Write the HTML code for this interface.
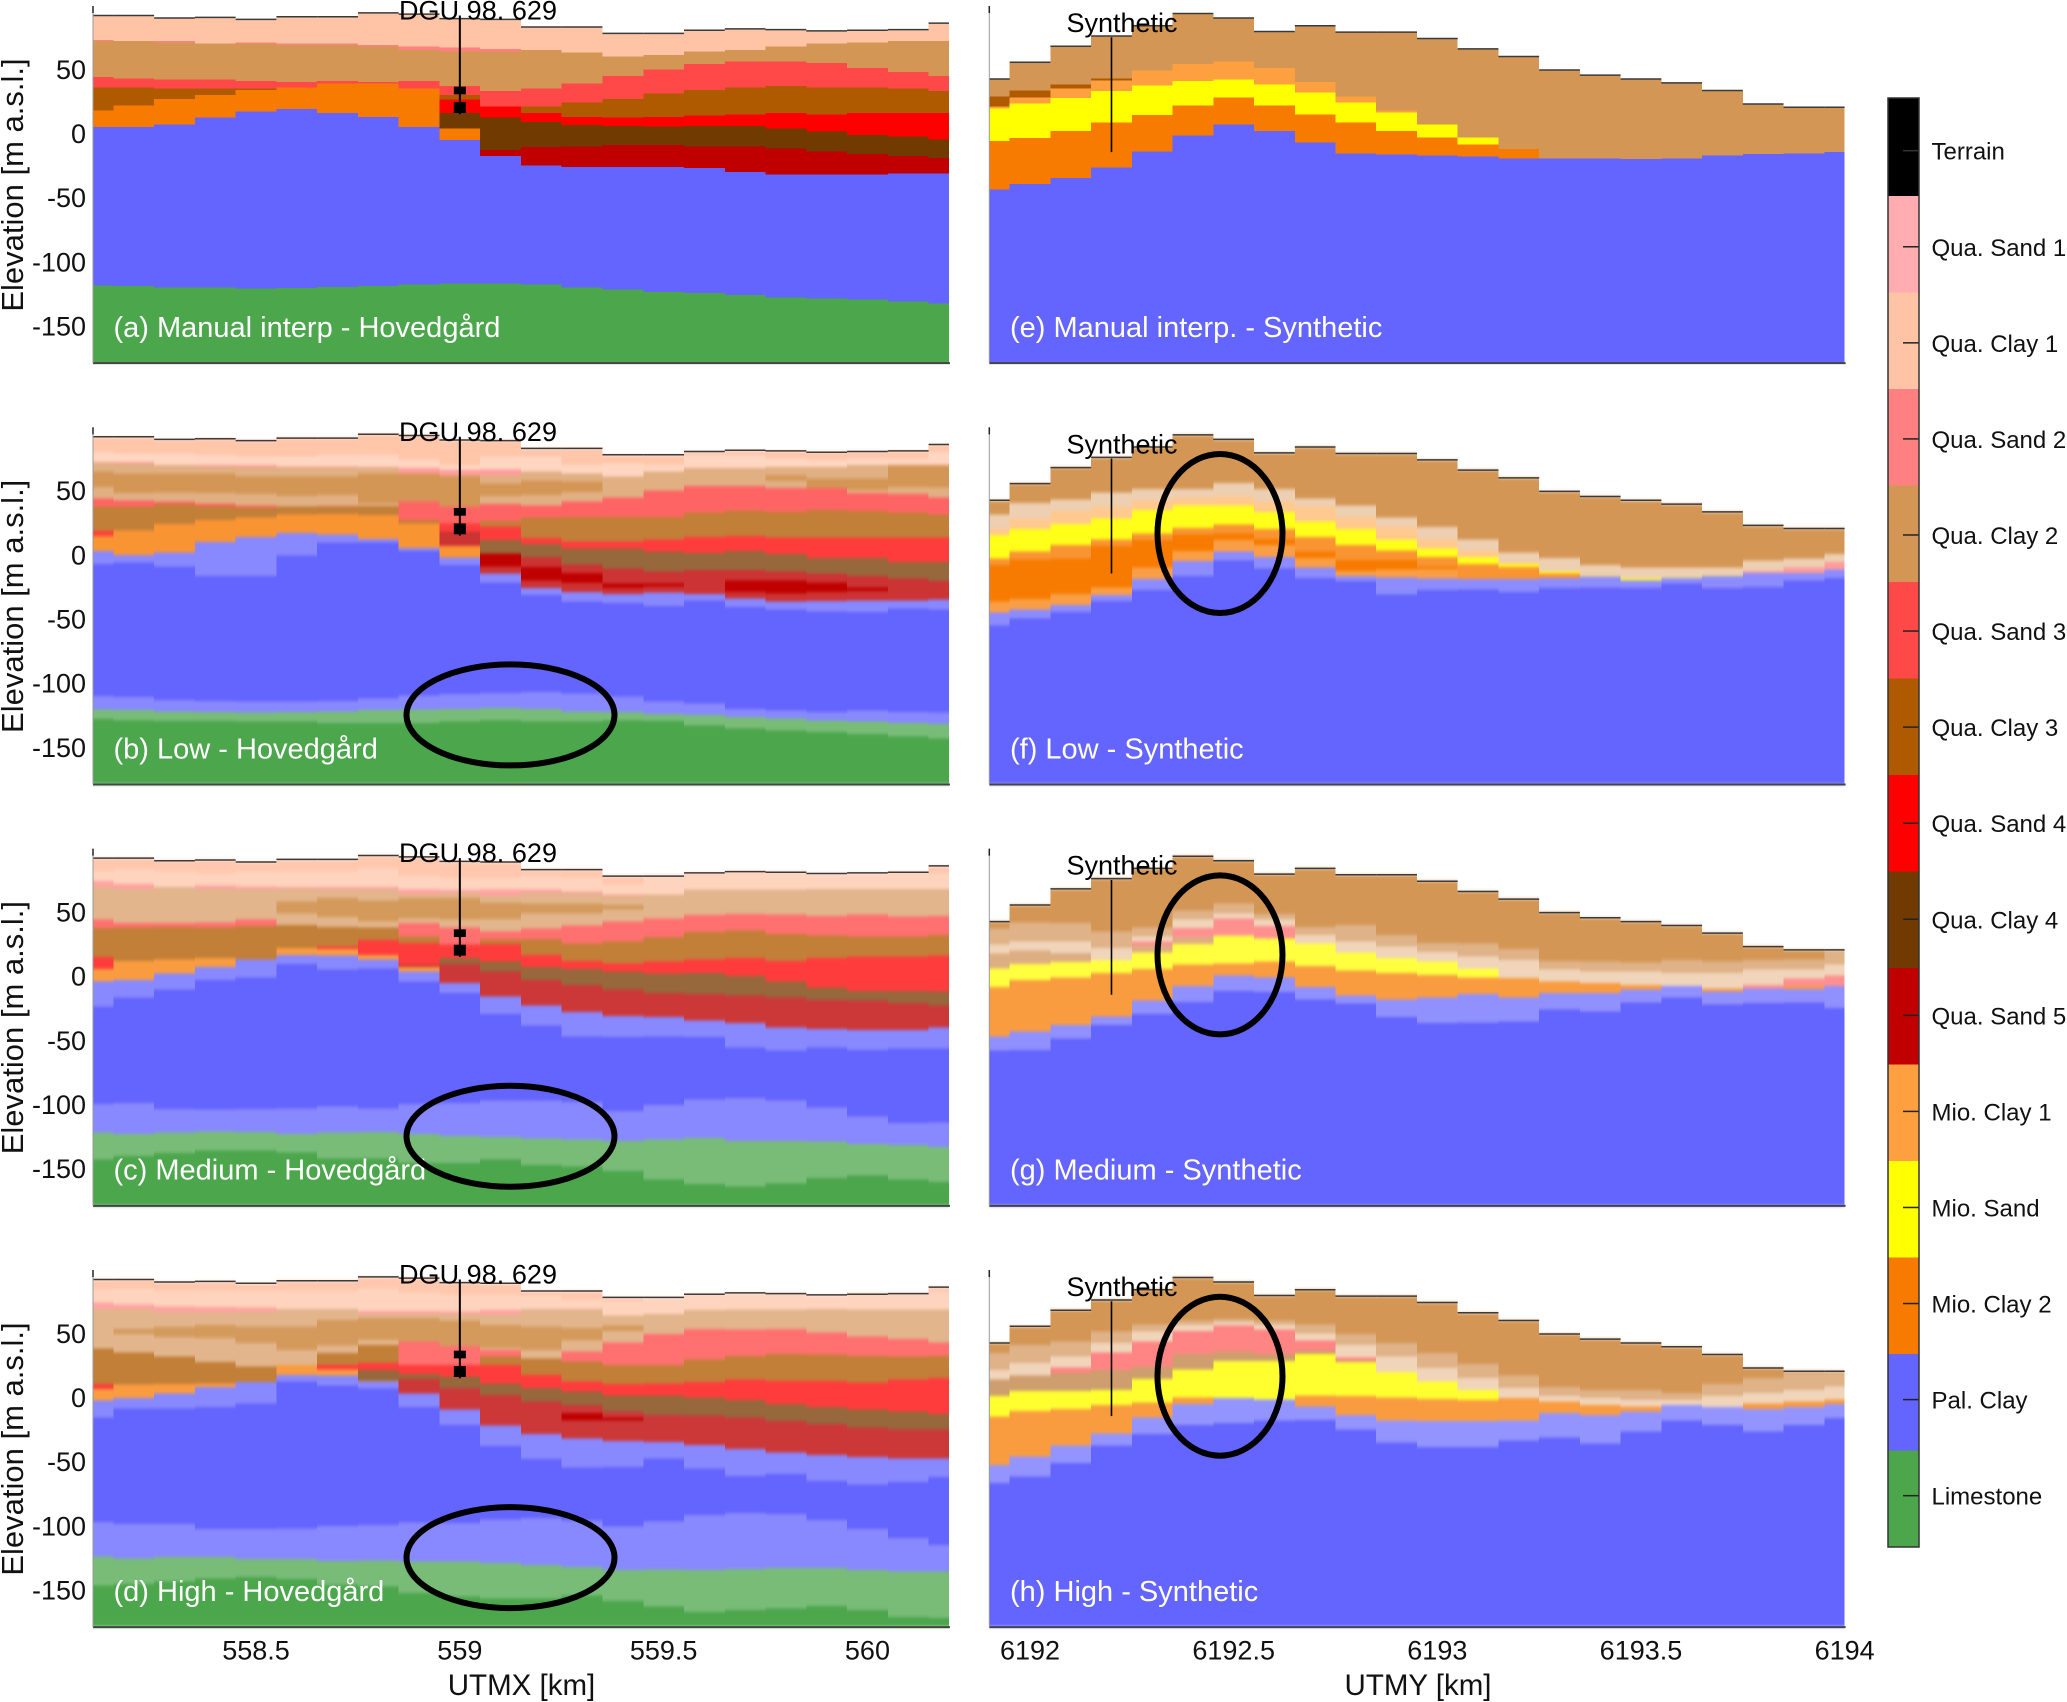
<!DOCTYPE html>
<html lang="en">
<head>
<meta charset="utf-8">
<title>Geological cross sections</title>
<style>
html,body{margin:0;padding:0;background:#fff;}
svg{display:block;font-family:"Liberation Sans",Arial,sans-serif;}
</style>
</head>
<body>
<svg id="chart" xmlns="http://www.w3.org/2000/svg" width="2067" height="1702" viewBox="0 0 2067 1702">
<defs>
<filter id="soften" filterUnits="userSpaceOnUse" x="0" y="0" width="2067" height="1702" color-interpolation-filters="sRGB">
<feGaussianBlur stdDeviation="0 1.5"/>
</filter>
</defs>
</svg>
<script>
/* ---------- shared data ---------- */
const utmxCenters = [558.1,558.2,558.3,558.4,558.5,558.6,558.7,558.8,558.9,559.0,559.1,559.2,559.3,559.4,559.5,559.6,559.7,559.8,559.9,560.0,560.1,560.2];
const utmyCenters = [6191.9,6192.0,6192.1,6192.2,6192.3,6192.4,6192.5,6192.6,6192.7,6192.8,6192.9,6193.0,6193.1,6193.2,6193.3,6193.4,6193.5,6193.6,6193.7,6193.8,6193.9,6194.0];
const utmxTicks = [558.5,559,559.5,560];
const utmyTicks = [6192,6192.5,6193,6193.5,6194];
const elevationTicks = [50,0,-50,-100,-150];
const unitNames = ['Terrain','Qua. Sand 1','Qua. Clay 1','Qua. Sand 2','Qua. Clay 2','Qua. Sand 3','Qua. Clay 3','Qua. Sand 4','Qua. Clay 4','Qua. Sand 5','Mio. Clay 1','Mio. Sand','Mio. Clay 2','Pal. Clay','Limestone'];
const unitColors = ['#000000','#FFADB0','#FFC4A6','#FF8080','#D49655','#FF4848','#B05A00','#FF0000','#703A00','#C00000','#FFA040','#FFFF00','#F77B00','#6464FF','#4CA64C'];
const terrainLeft = [92,92,90,90.5,89,91,91,94,93,89.5,89,83,83,78,78,80.5,81.5,81,80,80.5,81,86];
const terrainRight = [42.5,55.5,68,76,84,93.5,90,79.5,84,79,79,74,66,60,49.5,45.5,42.5,39.5,33.5,23,20.5,20.5];
const wellLeft = [559,92,15];
const wellLeftScreens = [[36.5,30.5],[24.5,16]];
const wellRight = [6192.2,75,-14.5];

/* ---------- panel (a) manual interpretation, Hovedgard ---------- */
const panelAColors = ['#FFC4A6','#FF8080','#D49655','#FF4848','#B05A00','#FF0000','#703A00','#C00000','#F77B00','#6464FF','#4CA64C'];
const panelATops = [
terrainLeft,
[73,72,72,70,71,70,70,69,68,67,66,65,63,60,61,64,65,68,70,71,72,72],
[72,72,71,70,70,69,69,68,65,64,64,65,63,60,61,64,65,68,70,71,72,72],
[44,43,42,42,41,40,41,40,41,37,33,35,39,45,50,54,56,56,55,51,48,45],
[36,36,35,35,35,36,39,39,35,30,21,21,24,27,31,34,36,37,36,36,35,33],
[18,22,27,30,34,36,39,39,35,26.5,21,16,13,12.5,13,14,15,16,15,16,16,16],
[18,22,27,30,34,36,39,39,35,16,12.5,9,6.5,6,5.5,6,6,4,1.5,-1,-2.5,-4.5],
[18,22,27,30,34,36,39,39,35,4,-13,-10.5,-10,-9,-9,-10,-10,-11.5,-14,-16,-17.5,-19],
[18,22,27,30,34,36,39,39,35,4,-17.5,-25,-26,-26,-26,-27,-30,-32,-32,-32,-31,-31],
[5,5,7,12.5,17,19,16,13,5,-5,-17.5,-25,-26,-26,-26,-27,-30,-32,-32,-32,-31,-31],
[-118.5,-119,-120,-120,-121,-120.5,-119.5,-119,-117.5,-117,-117,-117.5,-120,-121.5,-123.5,-124.5,-126,-128,-128.5,-129.5,-131,-132.5]
];

/* ---------- panel (b) low, Hovedgard ---------- */
const panelBColors = ['#FFC6AA','#FFD6C2','#FF9C9C','#E0B083','#D49655','#E0B083','#FF6464','#C27F38','#FF3C3C','#96683C','#CC3333','#C00000','#CC3333','#F99433','#8888FF','#6464FF','#8888FF','#78BC78','#4CA64C'];
const panelBTops = [
terrainLeft,
[80,79,79,78,76.5,76.5,78,78,74,70,76.5,76.5,70,71,70,78,78,75,74,75,75,80],
[72.5,72.5,70,70,70,69,69,68.5,67.5,66,66.5,65,63.5,61,65,67.5,67.5,68.5,68.5,70,70,70],
[72,71,70,69,68.5,68,68,68,63.5,62,62,65,63.5,61,65,67.5,67.5,68.5,68.5,70,70,70],
[65,63.5,63.5,63.5,61,61,61,63.5,63.5,61.5,55.5,58,57,55,50.5,50.5,59.5,62,59.5,59.5,70,70],
[53,48,48.5,48,47.5,46,46.5,40,41.5,37.5,46,46.5,49,55,50.5,54.5,61,58,51,50.5,53,52.5],
[44,42.5,41.5,40,38.5,37.5,38,38,41.5,37.5,39.5,38.5,41.5,44.5,50,53.5,53.5,52,52,48,47.5,44.5],
[37.5,37.5,39.5,38,37,37.5,37.5,38,27,24.5,26.5,29,29.5,29.5,29.5,33,34.5,33.5,35,34,33,31.5],
[18.5,19,24,27,29,31.5,32,31,24.5,24.5,22,13,10.5,10.5,12,14,14.5,13.5,13.5,13.5,13.5,13.5],
[14.5,19,24,27,29,31.5,32,31,24.5,18,11.5,8.5,5,5,2.5,1.5,3,0.5,-2.5,-2.5,-5.5,-5.5],
[14.5,19,24,27,29,31.5,32,31,24.5,18,1,-1.5,-7.5,-10.5,-13,-12,-12,-13,-14.5,-16.5,-18.5,-20.5],
[14.5,19,24,27,29,31.5,32,31,24.5,7,1,-9.5,-14,-22.5,-22.5,-30.5,-20,-20,-21.5,-25.5,-35.5,-35],
[14.5,19,24,27,29,31.5,32,31,24.5,7,-9,-20,-22,-26,-24.5,-30.5,-29,-30,-29,-28,-35.5,-35],
[14.5,19,24,27,29,31.5,32,31,24.5,7,-14.5,-26,-29,-30.5,-29.5,-30.5,-34,-36.5,-36,-35.5,-35.5,-35],
[3,0,2,10,14,17,16,12.5,5.5,-2,-14.5,-26,-29,-30.5,-29.5,-30.5,-34,-36.5,-36,-35.5,-35.5,-35],
[-7,-6,-9,-16.5,-16.5,-0.5,9.5,9.5,3,-8,-21.5,-31.5,-36.5,-37.5,-40,-35.5,-40.5,-42.5,-44,-44.5,-42,-42.5],
[-110,-111,-113,-114,-114.5,-114.5,-114,-112,-109.5,-108.5,-107.5,-107,-108,-110.5,-114.5,-116,-120,-121.5,-122.5,-121.5,-122.5,-123],
[-120.5,-121,-122,-122.5,-123,-122.5,-122,-121,-120.5,-120,-119.5,-120,-122,-122.5,-124,-125,-126.5,-127.5,-129,-130,-131,-132],
[-128,-129,-129.5,-129.5,-130,-130,-131,-131,-131,-130,-129,-130,-130,-129,-129.5,-133,-135.5,-137,-138,-139.5,-141.5,-143]
];

/* ---------- panel (c) medium, Hovedgard ---------- */
const panelCColors = ['#FFC8AE','#FFD4BE','#FFA2A2','#E2B58C','#D49A5C','#E2B58C','#FF7070','#C27F38','#FF3C3C','#96683C','#CC3838','#F99C40','#8888FF','#6464FF','#8888FF','#78BC78','#4CA64C'];
const panelCTops = [
terrainLeft,
[81.5,83,81.5,80,81.5,81.5,81.5,84,78,76.5,76.5,78,76.5,71,79,79,80,81.5,80,80,80,80],
[74,72,69.5,70.5,70,69.5,69.5,69.5,67.5,67,67.5,67.5,66,63.5,63.5,67.5,67.5,67.5,68,68,68,68],
[69.5,68,69.5,68.5,68,68.5,68,68,64,65,63,65,65,63,63.5,67.5,67.5,67.5,68,68,68,68],
[50.5,49,49,48,48,58,61,59,61,61,57.5,56.5,56.5,55.5,49,49,52,49,49,49,48,48],
[50.5,49,49,48,48,49,46,42.5,45,44,44.5,49,49,52,49,49,52,49,49,49,48,48],
[44,41.5,41.5,42,44,40,38.5,38,41.5,38,35,37,39.5,42.5,45,47.5,48.5,48,47,48,46.5,47],
[37.5,38,38.5,38,39,40,38.5,38,31,24.5,28.5,29,25.5,27,30.5,34.5,35.5,33,31.5,31,31,32],
[15,12,13,14,13,22,23,28,26,24.5,25,16.5,12,10,11.5,13,14,12,14,15.5,15.5,16],
[5.5,12,13,14,13,22,21,16.5,9,14,11.5,7,5.5,3.5,2,2.5,0,-4,-9,-11.5,-11.5,-12],
[5.5,12,13,14,13,22,21,16.5,9,9.5,3.5,-3,-7,-10.5,-13,-14,-15,-16.5,-18.5,-19,-21,-23],
[5.5,12,13,14,13,22,21,16.5,7,-5.5,-16,-23,-28,-31,-32,-34.5,-36.5,-40,-41,-42,-42,-40],
[-4,-3,2,7,13,16.5,16,13,3.5,-5.5,-16,-23,-28,-31,-32,-34.5,-36.5,-40,-41,-42,-42,-40],
[-23.5,-16.5,-10.5,-3,-1,9.5,5,6,-4,-13,-29.5,-38.5,-47,-47.5,-47,-47.5,-55.5,-58,-55.5,-57.5,-56.5,-56.5],
[-99.5,-99,-103.5,-104,-103.5,-103,-101.5,-103,-99.5,-99,-97,-97,-98,-105,-100.5,-96,-95,-97,-102.5,-109.5,-114.5,-114],
[-122,-123,-122,-121,-121.5,-123,-122,-121.5,-123,-124.5,-125.5,-126.5,-127.5,-128.5,-127.5,-126,-128.5,-128.5,-129,-131,-131.5,-133],
[-143,-140,-138,-136,-136,-137.5,-142,-142,-145.5,-145.5,-143,-147,-148.5,-152,-158.5,-162,-164,-161.5,-157.5,-155.5,-158.5,-160.5]
];

/* ---------- panel (d) high, Hovedgard ---------- */
const panelDColors = ['#FFC8AE','#FFD4BE','#FFA2A2','#E2B58C','#D49A5C','#E2B58C','#FF7070','#C27F38','#FF3C3C','#96683C','#CC3838','#C00000','#CC3838','#F99C40','#8888FF','#6464FF','#8888FF','#78BC78','#4CA64C'];
const panelDTops = [
terrainLeft,
[84,84.5,82.5,82.5,82.5,82.5,82.5,84.5,81.5,80,80,79,76,75,77.5,80,81.5,81.5,80,81.5,81.5,82.5],
[74,72.5,71,70.5,70,69,69,67.5,67.5,67,68,69,69,64,65,68,68.5,68.5,69,68.5,68.5,68.5],
[69,69,66.5,66.5,67,69,69,65,65,65,64.5,69,69,64,65,68,68.5,68.5,69,68.5,68.5,68.5],
[38,53.5,55,56.5,55.5,55.5,60.5,62,62,60,56.5,55.5,54,56,48,53.5,53,53.5,50.5,47.5,45.5,43],
[38,49.5,47,46.5,42.5,37,40.5,45,43.5,40,38.5,37,44.5,52,48,53.5,53,53.5,50.5,47.5,45.5,43],
[38,35,32,27.5,24,25.5,34.5,41,43.5,40,37,30.5,36,43,49.5,53.5,53,53.5,50.5,47.5,45.5,43],
[38,35,32,27.5,24,25.5,34.5,41,25.5,25.5,32,30.5,28,25.5,25.5,29.5,32.5,34,33.5,32.5,32,32.5],
[10.5,10,10.5,11,12,25.5,25.5,27,25.5,25.5,25.5,17.5,12.5,10.5,11,12,14,13,13,11.5,14,15],
[6.5,10,10.5,11,12,25.5,22,21.5,18.5,16.5,11,7.5,4.5,1.5,1.5,0,-2,-5,-7.5,-9.5,-11,-13],
[6.5,10,10.5,11,12,25.5,22,13,14.5,7.5,2,-3,-6,-11,-13.5,-14,-15.5,-18.5,-20.5,-23.5,-25,-25],
[6.5,10,10.5,11,12,25.5,22,13,3,-9.5,-22,-28.5,-12,-15.5,-34.5,-37,-40,-43,-45,-46.5,-47.5,-47.5],
[6.5,10,10.5,11,12,25.5,22,13,3,-9.5,-22,-28.5,-18,-18,-34.5,-37,-40,-43,-45,-46.5,-47.5,-47.5],
[6.5,10,10.5,11,12,25.5,22,13,3,-9.5,-22,-28.5,-32,-34,-34.5,-37,-40,-43,-45,-46.5,-47.5,-47.5],
[-2.5,-0.5,3,8,12,17.5,17,12.5,3,-9.5,-22,-28.5,-32,-34,-34.5,-37,-40,-43,-45,-46.5,-47.5,-47.5],
[-15.5,-8.5,-8.5,-7.5,-4.5,12.5,9.5,7,-7.5,-21.5,-38,-48,-54.5,-54,-47.5,-55.5,-61,-59.5,-65,-68,-66,-62],
[-97,-98.5,-98.5,-102.5,-102.5,-102,-100,-99.5,-97.5,-98,-95,-94,-96,-100.5,-96.5,-91.5,-90,-91,-95.5,-102.5,-109.5,-115],
[-124,-125.5,-124.5,-124.5,-126,-126,-127.5,-127,-128,-128,-129,-130.5,-132,-134.5,-134,-134.5,-133.5,-133,-133,-134.5,-135.5,-135.5],
[-146.5,-145.5,-143.5,-141,-140,-141.5,-146,-147.5,-152.5,-155,-156.5,-156.5,-154.5,-158.5,-163,-167,-165.5,-164.5,-162.5,-165.5,-171,-172]
];

/* ---------- panel (e) manual interpretation, Synthetic ---------- */
const panelEColors = ['#D49655','#B05A00','#FFA040','#FFFF00','#F77B00','#6464FF'];
const panelETops = [
terrainRight,
[29,33.5,38,43,49,54,56,51,40,29,18,7,-3,-12,-19.5,-19.5,-20,-19.5,-17,-16,-15.5,-14.5],
[21,28,35,41.5,49,54,56,51,40,29,18,7,-3,-12,-19.5,-19.5,-20,-19.5,-17,-16,-15.5,-14.5],
[19.5,23.5,27.5,33,37.5,41,42,38,32,24,16.5,7,-3,-12,-19.5,-19.5,-20,-19.5,-17,-16,-15.5,-14.5],
[-6,-3.5,2,8.5,14.5,22,28,22,15,8.5,2,-3,-8.5,-12,-19.5,-19.5,-20,-19.5,-17,-16,-15.5,-14.5],
[-43.5,-39.5,-34.5,-26.5,-14,-1.5,7,2,-7,-15.5,-16.5,-17,-18,-19.5,-19.5,-19.5,-20,-19.5,-17,-16,-15.5,-14.5]
];

/* ---------- panel (f) low, Synthetic ---------- */
const panelFColors = ['#D49655','#EDCFB2','#FF9C9C','#FFC98F','#FFFF1A','#F99433','#F77B00','#FA9E45','#8C8CFF','#6464FF'];
const panelFTops = [
terrainRight,
[31.5,40.5,43,48.5,51.5,51.5,56,51.5,44,38.5,29,21.5,12,2,-2.5,-8,-10,-10,-10,-4.5,-3,0.5],
[20.5,28.5,34,37.5,42.5,44.5,46,41.5,37.5,29.5,22,12.5,3.5,-6,-13,-16.5,-18.5,-17.5,-16,-12.5,-10,-5.5],
[20.5,28.5,34,37.5,42.5,44.5,46,41.5,37.5,29.5,22,12.5,3.5,-6,-13,-16.5,-18.5,-17.5,-16,-14,-14,-11.5],
[15.5,20,24,28.5,35,38.5,38.5,33.5,26,20,12,5,-1.5,-7,-13,-16.5,-18.5,-17.5,-16,-14,-14,-11.5],
[-3,2.5,7.5,12,16.5,21,23.5,20,14,7.5,3.5,-1.5,-7,-9.5,-14.5,-17,-20,-18,-16.5,-14,-14,-11.5],
[-8,-3.5,-3,7,11.5,16,16.5,12.5,2.5,-4,-4,-9,-19,-19,-18,-17,-20,-18,-16.5,-14,-14,-11.5],
[-36.5,-34.5,-30.5,-25.5,-10,3,11.5,7.5,-2.5,-12.5,-11.5,-11,-19,-19,-18,-17,-20,-18,-16.5,-14,-14,-11.5],
[-45,-42.5,-39,-31.5,-19,-5,2.5,-1.5,-10,-16.5,-17.5,-18.5,-19,-19,-18,-17,-20,-18,-16.5,-14,-14,-11.5],
[-55,-49.5,-44.5,-36,-27.5,-16.5,-4.5,-10.5,-18,-20.5,-31,-27.5,-27,-29,-26,-25.5,-26,-22.5,-26,-25,-20,-18]
];

/* ---------- panel (g) medium, Synthetic ---------- */
const panelGColors = ['#D49655','#DFB288','#F0D5BB','#FF9090','#DDAE82','#FFFF40','#F99C40','#9090FF','#6464FF'];
const panelGTops = [
terrainRight,
[37,42,41.5,35,38,51,56.5,48.5,38.5,40,32,26,25.5,21,12,11.5,10.5,12.5,11.5,12.5,13,20],
[24.5,27,27,22,31,44,49,44,32,27,23,19,15.5,12.5,5,3.5,3.5,2.5,2.5,5,5,9],
[17.5,20,18,12.5,27,37.5,45,39,25.5,18.5,14,11.5,6,-1.5,-4,-5.5,-7,-7.5,-9.5,-7,-2,0.5],
[17.5,20,18,12.5,24,30.5,31.5,29.5,25.5,18.5,14,11.5,6,-1.5,-4,-5.5,-7,-7.5,-9.5,-9.5,-7.5,-7.5],
[6,9.5,11,12.5,18.5,25,31.5,29.5,25.5,18.5,14,11.5,6,-1.5,-4,-5.5,-7,-7.5,-9.5,-9.5,-7.5,-7.5],
[-8.5,-3,-1,2.5,5.5,9,10,11.5,8,4.5,2.5,1,-1,-1.5,-4,-5.5,-7,-7.5,-9.5,-9.5,-7.5,-7.5],
[-47,-43,-38,-31.5,-19,-7.5,0.5,-1,-8.5,-15,-18,-16.5,-14,-16.5,-13,-13,-10.5,-7.5,-12,-9.5,-10,-7.5],
[-58,-57.5,-48.5,-38,-29.5,-20,-11.5,-12.5,-18,-21.5,-32,-36.5,-36,-35.5,-26,-27.5,-20.5,-16.5,-22,-21,-20.5,-25]
];

/* ---------- panel (h) high, Synthetic ---------- */
const panelHColors = ['#D49655','#DFB288','#F0D5BB','#FF8484','#CE9E6E','#FFFF30','#F99C40','#9494FF','#6464FF'];
const panelHTops = [
terrainRight,
[34.5,41,43.5,51.5,57,60,61,60,57,49.5,42.5,34.5,26,17,8,6,6,3.5,10.5,15,19.5,20],
[21.5,27,32,42.5,51.5,56.5,59,56.5,50,41,32,23,15,7.5,1,-0.5,-2,-2,1,3.5,6,8.5],
[14,17,23.5,35,43.5,52,56,53,44.5,31,20,12.5,6,-0.5,-3,-6,-7,-6,-7.5,-4.5,-3,-1.5],
[14,17,19,21.5,24,34,36,34,36.5,29,20,12.5,6,-0.5,-3,-6,-7,-6,-7.5,-4.5,-3,-1.5],
[1,5,5,6,14.5,22,28.5,28.5,34,27.5,20,12.5,6,-0.5,-3,-6,-7,-6,-7.5,-4.5,-3,-1.5],
[-15,-10.5,-9,-6,-4,0,-0.5,-1.5,1.5,1,0,-1,-2,-0.5,-3,-6,-7,-6,-7.5,-4.5,-3,-1.5],
[-52.5,-46,-37.5,-28,-15.5,-5,-0.5,-1.5,-7,-13.5,-18,-18.5,-18.5,-18,-12,-13.5,-11,-6,-7.5,-9,-7.5,-5],
[-66.5,-61.5,-51,-37.5,-28.5,-21.5,-20,-18,-17.5,-25,-35,-38.5,-38.5,-33.5,-31,-36,-26.5,-18,-21.5,-26.5,-21.5,-16]
];

const panelLabelsLeft = ['(a) Manual interp - Hovedgård','(b) Low - Hovedgård','(c) Medium - Hovedgård','(d) High - Hovedgård'];
const panelLabelsRight = ['(e) Manual interp. - Synthetic','(f) Low - Synthetic','(g) Medium - Synthetic','(h) High - Synthetic'];
const rowsLeft = [[panelATops,panelAColors],[panelBTops,panelBColors],[panelCTops,panelCColors],[panelDTops,panelDColors]];
const rowsRight = [[panelETops,panelEColors],[panelFTops,panelFColors],[panelGTops,panelGColors],[panelHTops,panelHColors]];

/* ---------- axis functions ---------- */
const NS = 'http://www.w3.org/2000/svg';
const svg = document.getElementById('chart');
const ROW_STEP = 421.33;
const Y_BOTTOM = -179;
function yScale(e, row){ return 133.5 + row*ROW_STEP - e*1.283; }
function xLeft(v){ return 93 + (v-558.1)*407.6; }
function xRight(v){ return 989.3 + (v-6191.9)*407.3; }
function make(tag, attrs, parent){
  const el = document.createElementNS(NS, tag);
  for (const k in attrs) el.setAttribute(k, attrs[k]);
  (parent||svg).appendChild(el);
  return el;
}

function drawPanel(row, side){
  const isLeft = side === 'left';
  const xs = isLeft ? utmxCenters : utmyCenters;
  const xf = isLeft ? xLeft : xRight;
  const spec = isLeft ? rowsLeft[row] : rowsRight[row];
  const tops = spec[0];
  const colors = spec[1];
  const x0 = xf(xs[0]);
  const x1 = xf(xs[xs.length-1]);
  const g = make('g', {});
  
  
  const cells = make('g', row > 0 ? {filter:'url(#soften)'} : {}, g);
  
  

  for (let b=0; b<tops.length; b++){
    for (let c=0; c<xs.length; c++){
      const lo = Math.max(x0, xf(xs[c]-0.05));
      const hi = Math.min(x1, xf(xs[c]+0.05));
      const t = yScale(tops[b][c], row);
      const nb = b+1<tops.length ? tops[b+1][c] : Y_BOTTOM;
      const h = yScale(nb, row) - t;
      if (h <= 0) continue;
      const r = make('rect', {x:lo, y:t, width:hi-lo, height:h, fill:colors[b], 'shape-rendering':'crispEdges'}, cells);
      
      
    }
  }

  /* terrain surface */
  const terrain = tops[0];
  for (let c=0; c<xs.length; c++){
    const lo = Math.max(x0, xf(xs[c]-0.05));
    const hi = Math.min(x1, xf(xs[c]+0.05));
    const y = yScale(terrain[c], row);
    const s = make('line', {x1:lo, x2:hi, y1:y, y2:y, stroke:'#3a3a3a', 'stroke-width':1.5}, g);
    
    
  }

  /* axes */
  const yb = yScale(Y_BOTTOM, row);
  const yTop = 6 + row*ROW_STEP;
  const axB = make('line', {x1:x0, x2:x1+1, y1:yb, y2:yb, stroke:'#444', 'stroke-width':2}, g);
  
  
  const axL = make('line', {x1:x0, x2:x0, y1:yTop, y2:yb, stroke:'#9a9a9a', 'stroke-width':1}, g);
  
  
  const axT = make('line', {x1:x0, x2:x0, y1:yTop, y2:yTop+7, stroke:'#222', 'stroke-width':1.5}, g);
  
  

  /* y tick labels */
  if (isLeft){
    elevationTicks.forEach(function(v){
      const t = make('text', {x:86, y:yScale(v,row)+9.5, 'font-size':27, 'text-anchor':'end', fill:'#111'}, g);
      
      
      t.textContent = String(v);
    });
    const yt = make('text', {transform:'translate(23,'+(185+row*ROW_STEP)+') rotate(-90)', 'font-size':31, 'text-anchor':'middle', fill:'#111'}, g);
    
    
    yt.textContent = 'Elevation [m a.s.l.]';
  }

  /* well annotation */
  const well = isLeft ? wellLeft : wellRight;
  const wx = xf(well[0]);
  const wl = make('line', {x1:wx, x2:wx, y1:yScale(well[1],row), y2:yScale(well[2],row), stroke:'#000', 'stroke-width':isLeft?2:1.6}, g);
  
  
  if (isLeft){
    wellLeftScreens.forEach(function(s){
      const y = yScale(s[0],row);
      const m = make('rect', {x:wx-6, y:y, width:12, height:yScale(s[1],row)-y, fill:'#000'}, g);
      
      
    });
    const wt = make('text', {x:399, y:19.5+row*ROW_STEP, 'font-size':27, fill:'#000', textLength:158, lengthAdjust:'spacing'}, g);
    
    
    wt.textContent = 'DGU 98. 629';
  } else {
    const wt = make('text', {x:1066.5, y:32+row*ROW_STEP, 'font-size':27, fill:'#000'}, g);
    
    
    wt.textContent = 'Synthetic';
  }

  /* panel caption */
  const cap = make('text', {x:isLeft?113.5:1010, y:337+row*ROW_STEP, 'font-size':29, fill:'#fff'}, g);
  
  
  cap.textContent = isLeft ? panelLabelsLeft[row] : panelLabelsRight[row];

  /* highlight ellipse */
  if (row > 0){
    const e = make('ellipse', isLeft
      ? {cx:510.5, cy:293.6+row*ROW_STEP, rx:104, ry:50.5, fill:'none', stroke:'#000', 'stroke-width':6}
      : {cx:1220, cy:112.2+row*ROW_STEP, rx:62.5, ry:79.5, fill:'none', stroke:'#000', 'stroke-width':6}, g);
    
    
  }
}

for (let r=0; r<4; r++){ drawPanel(r,'left'); drawPanel(r,'right'); }

/* x axes */
utmxTicks.forEach(function(v){
  const t = make('text', {x:xLeft(v), y:1659.5, 'font-size':27, 'text-anchor':'middle', fill:'#111'});
  
  
  t.textContent = String(v);
});
utmyTicks.forEach(function(v){
  const t = make('text', {x:xRight(v), y:1659.5, 'font-size':27, 'text-anchor':'middle', fill:'#111'});
  
  
  t.textContent = String(v);
});
const xt1 = make('text', {x:521.5, y:1695, 'font-size':29.5, 'text-anchor':'middle', fill:'#111'});


xt1.textContent = 'UTMX [km]';
const xt2 = make('text', {x:1418, y:1695, 'font-size':29.5, 'text-anchor':'middle', fill:'#111'});


xt2.textContent = 'UTMY [km]';

/* colorbar */
const CB_X = 1888, CB_W = 31, CB_Y = 98, CB_END = 1547, CB_FIRST = 196;
const cb = make('g', {});


const segH = (CB_END - CB_FIRST) / (unitNames.length - 1);
unitNames.forEach(function(name,i){
  const y = i === 0 ? CB_Y : CB_FIRST + (i-1)*segH;
  const h = i === 0 ? CB_FIRST - CB_Y : segH;
  const tickY = 150.7 + i*96.07;
  const r = make('rect', {x:CB_X, y:y, width:CB_W, height:h+0.5, fill:unitColors[i], 'shape-rendering':'crispEdges'}, cb);
  
  
  const tick = make('line', {x1:CB_X+15, x2:CB_X+CB_W, y1:tickY, y2:tickY, stroke:i===0?'#333':'#222', 'stroke-width':1.5}, cb);
  
  
  const t = make('text', {x:1931.5, y:tickY+9, 'font-size':24, fill:'#111'}, cb);
  
  
  t.textContent = name;
});
const cbBorder = make('rect', {x:CB_X, y:CB_Y, width:CB_W, height:CB_END-CB_Y, fill:'none', stroke:'#333', 'stroke-width':1.5}, cb);


</script>
</body>
</html>
